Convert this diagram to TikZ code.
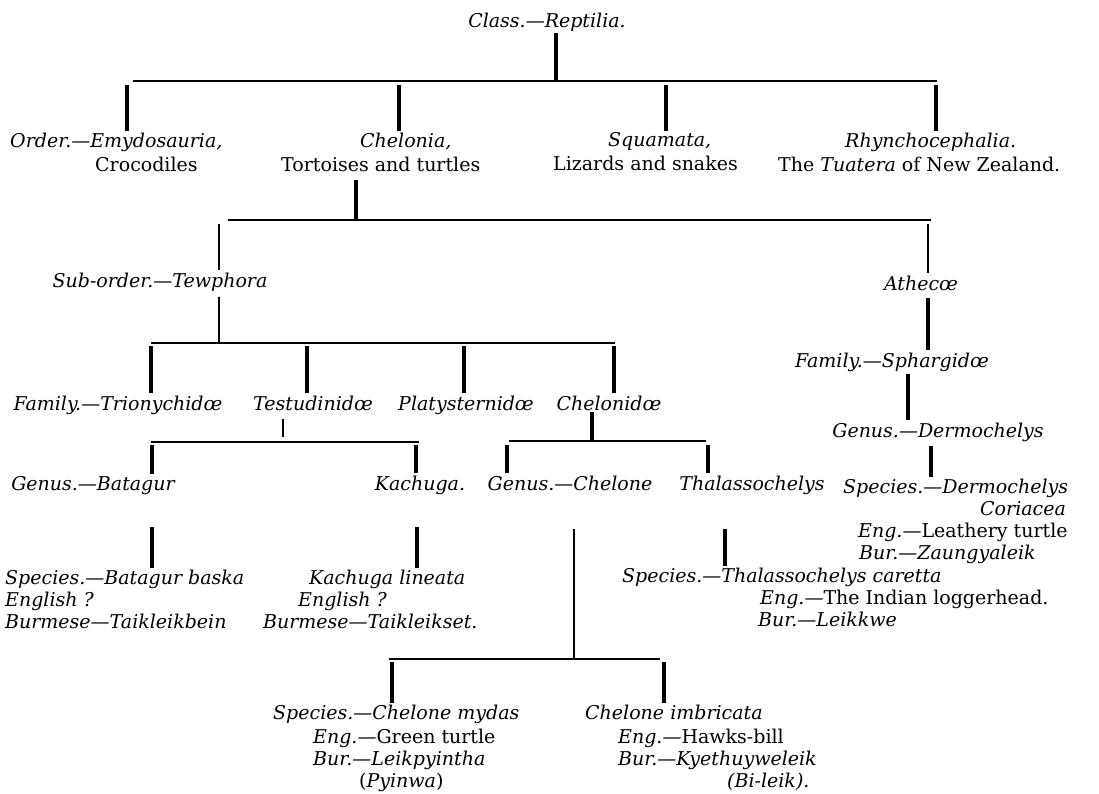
\documentclass[tikz,border=0pt]{standalone}
\usepackage{fontspec}
\setmainfont{DejaVu Serif}

\newcommand{\lblfont}{\fontsize{19}{22}\selectfont\itshape}

\tikzset{
    lbl/.style={font=\lblfont, inner sep=2pt},
    blk/.style={lbl, anchor=north west, align=left},
    stem/.style={line width=3.2pt},
    thinstem/.style={line width=1.8pt},
    bar/.style={line width=2pt}
}

\begin{document}
\begin{tikzpicture}[x=1pt, y=-1pt]
            \useasboundingbox (0,0) rectangle (1099,793);

            % class
            \node[lbl, anchor=base] (reptilia) at (547,27) {Class.—Reptilia.};

            % orders
            \node[blk] (order) at (8,130.6) {Order.—Emydosauria,\\[2pt]\hspace*{85pt}\textup{Crocodiles}};
            \node[blk] (chelonia) at (279,130.6) {\hspace*{79pt}Chelonia,\\[2pt]\textup{Tortoises and turtles}};
            \node[blk] (squamata) at (551,130.6) {\hspace*{55pt}Squamata,\\[2pt]\textup{Lizards and snakes}};
            \node[blk] (rhyncho) at (776,130.6) {\hspace*{67pt}Rhynchocephalia.\\[2pt]\textup{The \textit{Tuatera} of New Zealand.}};

            \coordinate (j1) at (556,81);
            \coordinate (b1w) at (133,81);
            \coordinate (b1e) at (937,81);
            \draw[stem] (j1 |- reptilia.south) -- (j1);
            \draw[bar] (b1w) -- (b1e);
            \foreach \x/\n in {127/order, 399/chelonia, 666/squamata, 936/rhyncho}
                \draw[stem] (\x,85) -- (\x,85 |- \n.north);

            % sub-orders
            \node[lbl, anchor=base] (suborder) at (160,287) {Sub-order.—Tewphora};
            \node[lbl, anchor=base] (athecae) at (921,290) {Athecœ};

            \coordinate (j2) at (356,220);
            \coordinate (b2w) at (228,220);
            \coordinate (b2e) at (931,220);
            \draw[stem, shorten <=6pt] (j2 |- chelonia.south) -- (j2);
            \draw[bar] (b2w) -- (b2e);
            \draw[thinstem] (219,224) -- (219,224 |- suborder.north);
            \draw[thinstem] (928,224) -- (928,224 |- athecae.north);

            % families
            \node[lbl, anchor=base] (trionychidae) at (118,410) {Family.—Trionychidœ};
            \node[lbl, anchor=base] (testudinidae) at (313,410) {Testudinidœ};
            \node[lbl, anchor=base] (platysternidae) at (466,410) {Platysternidœ};
            \node[lbl, anchor=base] (chelonidae) at (609,410) {Chelonidœ};
            \node[lbl, anchor=base] (sphargidae) at (892,367) {Family.—Sphargidœ};

            \coordinate (j3) at (219,343);
            \coordinate (b3w) at (151,343);
            \coordinate (b3e) at (615,343);
            \draw[thinstem, shorten <=4pt] (j3 |- suborder.south) -- (j3);
            \draw[bar] (b3w) -- (b3e);
            \foreach \x/\n in {151/trionychidae, 307/testudinidae, 464/platysternidae, 614/chelonidae}
                \draw[stem] (\x,346) -- (\x,346 |- \n.north);
            \draw[stem, shorten <=6pt] (928,0 |- athecae.south) -- (928,0 |- sphargidae.north);

            % genera
            \node[lbl, anchor=base] (batagur) at (93,490) {Genus.—Batagur};
            \node[lbl, anchor=base] (kachuga) at (420,490) {Kachuga.};
            \node[lbl, anchor=base] (chelone) at (570,490) {Genus.—Chelone};
            \node[lbl, anchor=base] (thalasso) at (752,490) {Thalassochelys};
            \node[lbl, anchor=base] (dermochelys) at (938,437) {Genus.—Dermochelys};

            \coordinate (j4) at (283,442);
            \coordinate (b4w) at (151,442);
            \coordinate (b4e) at (419,442);
            \draw[thinstem, shorten <=7pt, shorten >=5pt] (j4 |- testudinidae.south) -- (j4);
            \draw[bar] (b4w) -- (b4e);
            \foreach \x/\n in {152/batagur, 416/kachuga}
                \draw[stem] (\x,445) -- (\x,445 |- \n.north);

            \coordinate (j5) at (592,441);
            \coordinate (b5w) at (509,441);
            \coordinate (b5e) at (706,441);
            \draw[stem] (j5 |- chelonidae.south) -- (j5);
            \draw[bar] (b5w) -- (b5e);
            \foreach \x/\n in {507/chelone, 708/thalasso}
                \draw[stem] (\x,445) -- (\x,445 |- \n.north);
            \draw[stem] (908,374) -- (908,374 |- dermochelys.north);

            % species
            \node[blk] (baska) at (3,567.6) {Species.—Batagur baska\\English ?\\Burmese—Taikleikbein};
            \node[blk] (lineata) at (261,567.6) {\hspace*{46pt}Kachuga lineata\\\hspace*{35pt}English ?\\Burmese—Taikleikset.};
            \node[blk] (caretta) at (620,565.6) {Species.—Thalassochelys caretta\\\hspace*{138pt}Eng.—\textup{The Indian loggerhead.}\\\hspace*{136pt}Bur.—Leikkwe};
            \node[blk] (coriacea) at (841,476.6) {Species.—Dermochelys\\\hspace*{137pt}Coriacea\\\hspace*{15pt}Eng.—\textup{Leathery turtle}\\\hspace*{16pt}Bur.—Zaungyaleik};

            \draw[stem] (152,527) -- (152,527 |- baska.north);
            \draw[stem] (417,527) -- (417,527 |- lineata.north);
            \draw[stem] (725,529) -- (725,529 |- caretta.north);
            \draw[stem] (931,446) -- (931,446 |- coriacea.north);

            % chelone species
            \node[blk] (mydas) at (271,702.6) {Species.—Chelone mydas\\[2pt]\hspace*{40pt}Eng.—\textup{Green turtle}\\\hspace*{40pt}Bur.—Leikpyintha\\\hspace*{86pt}\textup{(}Pyinwa\textup{)}};
            \node[blk] (imbricata) at (583,702.6) {Chelone imbricata\\[2pt]\hspace*{33pt}Eng.—\textup{Hawks-bill}\\\hspace*{33pt}Bur.—Kyethuyweleik\\\hspace*{142pt}(Bi-leik).};

            \coordinate (j6) at (574,659);
            \coordinate (b6w) at (389,659);
            \coordinate (b6e) at (660,659);
            \draw[thinstem] (j6 |- 0,529) -- (j6);
            \draw[bar] (b6w) -- (b6e);
            \foreach \x/\n in {392/mydas, 664/imbricata}
                \draw[stem] (\x,662) -- (\x,662 |- \n.north);
\end{tikzpicture}
\end{document}
